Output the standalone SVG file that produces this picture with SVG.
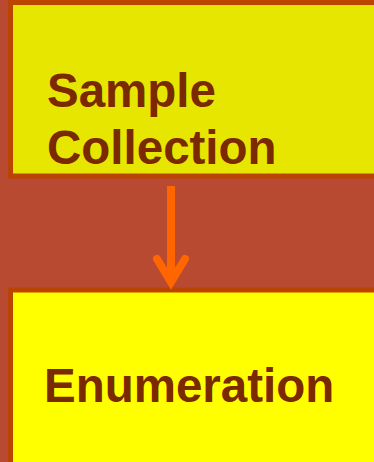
<svg xmlns="http://www.w3.org/2000/svg" width="374" height="462" viewBox="0 0 374 462">
<style>
.box{stroke:#bb4400;stroke-width:5}
.lbl{font-family:"Liberation Sans",Arial,sans-serif;font-weight:bold;font-size:47.5px;fill:#7a2900}
.conn{stroke:#ff6600;stroke-width:8;fill:none}
</style>
<rect width="374" height="462" fill="#b84a32"/>
<g id="sample-collection">
<rect class="box" x="10.5" y="2.5" width="380" height="173.5" fill="#e6e600"/>
<text class="lbl" x="47" y="107">Sample</text>
<text class="lbl" x="47" y="164">Collection</text>
</g>
<g id="enumeration">
<rect class="box" x="10.5" y="290" width="380" height="200" fill="#ffff00"/>
<text class="lbl" x="44" y="402">Enumeration</text>
</g>
<g id="connectors">
<line class="conn" x1="171" y1="186" x2="171" y2="280"/>
<polyline class="conn" points="157,259 171,282 185,259" stroke-linecap="round" stroke-linejoin="miter" stroke-miterlimit="10"/>
</g>
</svg>
